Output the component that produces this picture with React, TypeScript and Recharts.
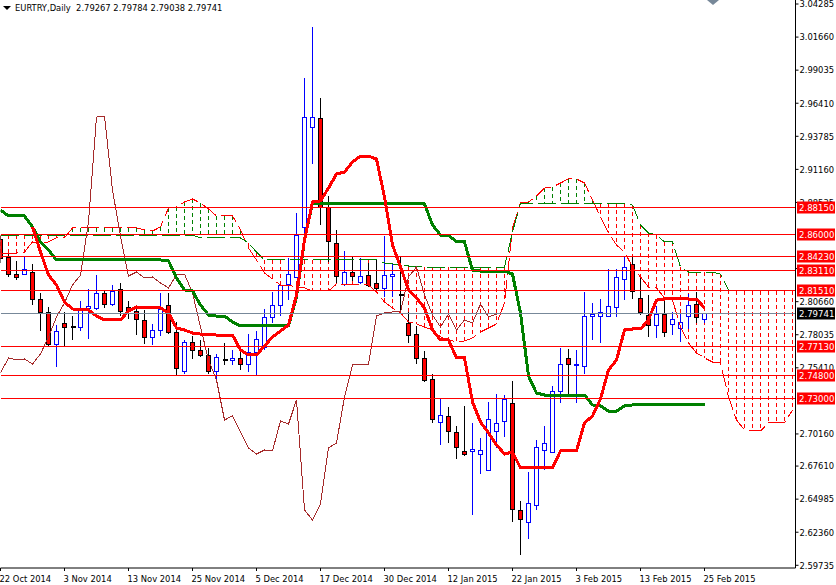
import { Bar, ComposedChart, Line, ReferenceLine, XAxis, YAxis } from "recharts"

const opens = [2.8556,2.8413,2.8285,2.8285,2.8301,2.8087,2.7976,2.7722,2.7889,2.7865,2.7857,2.8008,2.8008,2.8127,2.8047,2.8159,2.8016,2.7984,2.7913,2.7778,2.7841,2.8032,2.7825,2.7508,2.7738,2.7675,2.7635,2.7508,2.7603,2.7595,2.7611,2.7571,2.7659,2.7706,2.7937,2.8039,2.8206,2.8254,2.8651,2.9445,2.9523,2.8817,2.8524,2.8206,2.8301,2.8222,2.8277,2.8214,2.8167,2.8262,2.8119,2.7889,2.7809,2.7611,2.7452,2.7103,2.7151,2.7024,2.6873,2.6873,2.6849,2.6722,2.7032,2.7111,2.7254,2.6405,2.6317,2.6452,2.6881,2.6865,2.7349,2.7611,2.7556,2.7548,2.7952,2.7945,2.7952,2.8016,2.8238,2.8357,2.8095,2.7960,2.7873,2.7968,2.7881,2.7849,2.7945,2.8047,2.79267]
const highs = [2.8595,2.8452,2.8389,2.8436,2.8365,2.8135,2.8024,2.7881,2.7984,2.7960,2.8079,2.8167,2.8285,2.8159,2.8206,2.8222,2.8079,2.8024,2.8000,2.7889,2.8135,2.8135,2.7905,2.7762,2.7794,2.7762,2.7706,2.7651,2.7738,2.7683,2.7706,2.7817,2.7841,2.8008,2.8143,2.8214,2.8413,2.8770,2.9842,3.0246,2.9683,2.8912,2.8635,2.8476,2.8421,2.8413,2.8373,2.8397,2.8595,2.8373,2.8421,2.7984,2.7873,2.7675,2.7492,2.7302,2.7230,2.7087,2.7238,2.7103,2.6984,2.7270,2.7341,2.7326,2.7437,2.6484,2.6714,2.6968,2.7087,2.7397,2.7699,2.7691,2.7683,2.8143,2.8063,2.8095,2.8333,2.8333,2.8421,2.8421,2.8277,2.8119,2.8039,2.8095,2.7984,2.7976,2.8127,2.8143,2.79784]
const lows = [2.8373,2.8269,2.8238,2.8285,2.8047,2.7841,2.7714,2.7548,2.7714,2.7762,2.7841,2.7770,2.8000,2.8016,2.8039,2.7960,2.7929,2.7809,2.7730,2.7722,2.7794,2.7817,2.7484,2.7492,2.7611,2.7627,2.7492,2.7452,2.7571,2.7571,2.7524,2.7508,2.7484,2.7683,2.7897,2.7960,2.8087,2.8254,2.8572,2.9166,2.8675,2.8381,2.8222,2.8198,2.8230,2.8214,2.8190,2.8143,2.8103,2.8103,2.7976,2.7738,2.7579,2.7429,2.7103,2.6929,2.6952,2.6818,2.6841,2.6373,2.6706,2.6722,2.6905,2.6992,2.6325,2.6056,2.6190,2.6413,2.6730,2.6865,2.7262,2.7310,2.7262,2.7492,2.7762,2.7738,2.7945,2.7945,2.8087,2.8095,2.7968,2.7786,2.7778,2.7786,2.7809,2.7746,2.7849,2.7897,2.79038]
const closes = [2.8405,2.8285,2.8254,2.8325,2.8087,2.7976,2.7722,2.7833,2.7857,2.7865,2.8008,2.8024,2.8127,2.8047,2.8143,2.7984,2.7984,2.7921,2.7778,2.7841,2.8000,2.7825,2.7532,2.7738,2.7675,2.7635,2.7508,2.7619,2.7603,2.7611,2.7571,2.7659,2.7762,2.7937,2.8039,2.8198,2.8285,2.8595,2.9531,2.9531,2.8817,2.8540,2.8262,2.8301,2.8262,2.8269,2.8198,2.8167,2.8277,2.8285,2.8119,2.7801,2.7611,2.7437,2.7127,2.7159,2.7032,2.6905,2.6849,2.6889,2.6881,2.7127,2.7095,2.7286,2.6413,2.6333,2.6460,2.6905,2.6944,2.7349,2.7564,2.7564,2.7571,2.7952,2.7968,2.7976,2.8024,2.8254,2.8341,2.8143,2.7976,2.7873,2.7968,2.7825,2.7921,2.7897,2.8039,2.7937,2.79741]

// first four days have no conversion line on the picture
const tenkan = [null,null,null,null,2.8659,2.8460,2.8277,2.8198,2.8063,2.8008,2.8000,2.8000,2.7952,2.7921,2.7921,2.7921,2.7992,2.8024,2.8016,2.8016,2.8016,2.7976,2.7857,2.7841,2.7817,2.7809,2.7809,2.7801,2.7801,2.7801,2.7683,2.7643,2.7643,2.7714,2.7786,2.7833,2.7881,2.8119,2.8556,2.8857,2.8865,2.8968,2.9079,2.9095,2.9174,2.9222,2.9222,2.9198,2.8897,2.8516,2.8341,2.8159,2.8095,2.8016,2.7841,2.7762,2.7762,2.7619,2.7619,2.7270,2.7111,2.7024,2.6929,2.6857,2.6873,2.6746,2.6746,2.6746,2.6746,2.6746,2.6881,2.6881,2.6881,2.7103,2.7159,2.7294,2.7524,2.7603,2.7841,2.7849,2.7849,2.7921,2.8079,2.8087,2.8095,2.8095,2.8087,2.8087,2.8016]
const kijun = [2.8794,2.8746,2.8746,2.8746,2.8659,2.8540,2.8476,2.8397,2.8397,2.8397,2.8397,2.8397,2.8397,2.8397,2.8397,2.8397,2.8397,2.8397,2.8397,2.8397,2.8397,2.8389,2.8254,2.8159,2.8151,2.8039,2.7960,2.7952,2.7952,2.7905,2.7873,2.7873,2.7873,2.7873,2.7873,2.7873,2.7873,2.8103,2.8556,2.8849,2.8849,2.8849,2.8849,2.8849,2.8849,2.8849,2.8849,2.8849,2.8849,2.8849,2.8849,2.8849,2.8849,2.8841,2.8675,2.8595,2.8595,2.8540,2.8540,2.8317,2.8309,2.8309,2.8309,2.8309,2.8285,2.7976,2.7476,2.7341,2.7325,2.7325,2.7325,2.7325,2.7325,2.7325,2.7246,2.7238,2.7198,2.7198,2.7238,2.7246,2.7246,2.7246,2.7246,2.7246,2.7246,2.7246,2.7246,2.7246,2.7246]
const chikou = [2.7500,2.7619,2.7603,2.7611,2.7571,2.7651,2.7786,2.7945,2.8055,2.8198,2.8277,2.8698,2.9531,2.9539,2.8952,2.8587,2.8269,2.8301,2.8254,2.8262,2.8214,2.8175,2.8277,2.8285,2.8135,2.7865,2.7603,2.7445,2.7127,2.7159,2.7032,2.6905,2.6857,2.6889,2.6881,2.7119,2.7095,2.7286,2.6413,2.6333,2.6460,2.6905,2.6944,2.7310,2.7564,2.7571,2.7571,2.7952,2.7976,2.7984,2.7984,2.8262,2.8341,2.8119,2.7960,2.7865,2.7968,2.7841,2.7921,2.7897,2.8047,2.7945,2.7968]
const spanA = [2.8452,2.8452,2.8452,2.8460,2.8540,2.8524,2.8540,2.8572,2.8572,2.8651,2.8651,2.8651,2.8651,2.8651,2.8651,2.8651,2.8651,2.8651,2.8635,2.8627,2.8659,2.8810,2.8817,2.8857,2.8881,2.8849,2.8802,2.8746,2.8746,2.8746,2.8635,2.8492,2.8397,2.8293,2.8246,2.8198,2.8198,2.8182,2.8175,2.8151,2.8151,2.8151,2.8206,2.8206,2.8206,2.8206,2.8198,2.8143,2.8063,2.8016,2.7976,2.7905,2.7889,2.7865,2.7841,2.7786,2.7762,2.7746,2.7754,2.7778,2.7825,2.7857,2.7889,2.8055,2.8651,2.8849,2.8857,2.8905,2.8968,2.8976,2.9008,2.9040,2.9040,2.9008,2.8873,2.8738,2.8611,2.8516,2.8460,2.8341,2.8262,2.8182,2.8175,2.8095,2.8079,2.7865,2.7738,2.7659,2.7619,2.7587,2.7579,2.7310,2.7127,2.7048,2.7040,2.7040,2.7103,2.7103,2.7103,2.7206]
const spanB = [2.8595,2.8595,2.8595,2.8595,2.8595,2.8595,2.8595,2.8595,2.8595,2.8595,2.8595,2.8595,2.8595,2.8595,2.8595,2.8595,2.8595,2.8595,2.8595,2.8595,2.8595,2.8595,2.8595,2.8595,2.8595,2.8572,2.8572,2.8572,2.8572,2.8572,2.8572,2.8532,2.8460,2.8397,2.8397,2.8397,2.8397,2.8397,2.8397,2.8397,2.8397,2.8397,2.8397,2.8397,2.8397,2.8397,2.8397,2.8397,2.8373,2.8365,2.8357,2.8349,2.8349,2.8341,2.8341,2.8341,2.8341,2.8341,2.8341,2.8341,2.8341,2.8341,2.8341,2.8341,2.8619,2.8849,2.8849,2.8849,2.8849,2.8849,2.8849,2.8849,2.8849,2.8849,2.8849,2.8849,2.8849,2.8849,2.8849,2.8833,2.8675,2.8611,2.8595,2.8540,2.8540,2.8341,2.8301,2.8301,2.8301,2.8301,2.8285,2.8159,2.8151,2.8151,2.8151,2.8151,2.8151,2.8151,2.8151,2.8151]

const dateTicks = [0, 8, 16, 24, 32, 40, 48, 56, 64, 72, 80, 88]
const dateLabels = ["22 Oct 2014", "3 Nov 2014", "13 Nov 2014", "25 Nov 2014", "5 Dec 2014", "17 Dec 2014", "30 Dec 2014", "12 Jan 2015", "22 Jan 2015", "3 Feb 2015", "13 Feb 2015", "25 Feb 2015"]
const priceTicks = [3.04285, 3.0166, 2.99035, 2.9641, 2.93785, 2.9116, 2.88535, 2.83285, 2.8066, 2.78035, 2.7541, 2.7016, 2.6761, 2.64985, 2.6236, 2.59735]
const levels = [2.8815, 2.86, 2.8423, 2.8311, 2.8151, 2.7713, 2.748, 2.73]
const lastPrice = 2.79741

const FONT = "'DejaVu Sans Condensed', 'Liberation Sans', sans-serif"
const PRICE_DOMAIN = [2.5952, 3.04603]

const rows = spanA.map((a, i) => ({
  i,
  range: i < opens.length ? [lows[i], highs[i]] : undefined,
  open: opens[i],
  close: closes[i],
  tenkan: tenkan[i] ?? undefined,
  kijun: kijun[i],
  chikou: chikou[i],
  spanA: a,
  spanB: spanB[i],
  cloud: [Math.min(a, spanB[i]), Math.max(a, spanB[i])],
}))

const crisp = (v: number) => Math.floor(v) + 0.5

function Candle(props: any) {
  const { x, y, width, height, payload } = props
  if (!payload || !payload.range) return null
  const [low, high] = payload.range
  const perUnit = height / (high - low)
  const cx = crisp(x + width / 2)
  const yOpen = crisp(y + (high - payload.open) * perUnit)
  const yClose = crisp(y + (high - payload.close) * perUnit)
  const up = payload.close > payload.open
  const color = up ? "#0000ff" : "#000000"
  const top = Math.min(yOpen, yClose)
  const bodyH = Math.abs(yOpen - yClose)
  return (
    <g shapeRendering="crispEdges">
      <line x1={cx} x2={cx} y1={crisp(y)} y2={crisp(y + height)} stroke={color} />
      {bodyH < 1 ? (
        <line x1={cx - 2} x2={cx + 3} y1={top} y2={top} stroke={color} strokeWidth={2} />
      ) : (
        <rect x={cx - 2} y={top} width={4} height={bodyH} fill={up ? "#ffffff" : "#ff0000"} stroke={color} />
      )}
    </g>
  )
}

function CloudHatch(props: any) {
  const { x, y, width, height, payload } = props
  if (!payload) return null
  const cx = crisp(x + width / 2)
  return (
    <line
      x1={cx}
      x2={cx}
      y1={y}
      y2={y + height}
      stroke={payload.spanA > payload.spanB ? "#008000" : "#ff0000"}
      strokeDasharray="4 3"
      shapeRendering="crispEdges"
    />
  )
}

function DateTick(props: any) {
  const { x, y, payload } = props
  return (
    <text x={x - 1} y={y + 9} fontSize={9.3} fontFamily={FONT} fill="#000">
      {dateLabels[dateTicks.indexOf(payload.value)]}
    </text>
  )
}

// drawn from a second axis so the boxes sit on top of the price ticks
function PriceTag(props: any) {
  const { y, payload } = props
  const top = crisp(y)
  return (
    <g>
      <rect x={797} y={top - 6} width={38} height={12} fill={payload.value === lastPrice ? "#000" : "#ff0000"} />
      <text x={799} y={top + 3.5} fontSize={9.5} fontFamily={FONT} fill="#fff">
        {payload.value.toFixed(5)}
      </text>
    </g>
  )
}

export default function App() {
  return (
    <div style={{ position: "absolute", left: 0, top: 0, width: 836, height: 585, background: "#fff", overflow: "hidden" }}>
      <div style={{ position: "absolute", left: 3, top: 6, width: 0, height: 0, borderLeft: "4px solid transparent", borderRight: "4px solid transparent", borderTop: "4px solid #000" }} />
      <div style={{ position: "absolute", left: 15, top: 2, fontSize: 9.3, fontFamily: FONT, whiteSpace: "pre", zIndex: 2 }}>
        EURTRY,Daily  2.79267 2.79784 2.79038 2.79741
      </div>
      <div style={{ position: "absolute", left: 707, top: 0, width: 0, height: 0, borderLeft: "6px solid transparent", borderRight: "6px solid transparent", borderTop: "5px solid #778899", zIndex: 2 }} />
      <ComposedChart width={836} height={585} data={rows} margin={{ top: 0, right: 0, bottom: 0, left: 0.5 }}>
        <XAxis
          dataKey="i"
          type="number"
          domain={[0, 99.375]}
          allowDataOverflow
          ticks={dateTicks}
          interval={0}
          height={17}
          stroke="#000"
          tickSize={3}
          tick={<DateTick />}
        />
        <XAxis xAxisId="cloud" dataKey="i" type="number" domain={[0, 99.375]} allowDataOverflow hide />
        <YAxis
          orientation="right"
          type="number"
          domain={PRICE_DOMAIN}
          allowDataOverflow
          ticks={priceTicks}
          interval={0}
          width={40.5}
          stroke="#000"
          tickSize={3}
          tickMargin={1}
          tickFormatter={(v: number) => v.toFixed(5)}
          tick={{ fontSize: 9.3, fontFamily: FONT, fill: "#000" }}
        />
        <YAxis
          yAxisId="tags"
          orientation="right"
          mirror
          type="number"
          domain={PRICE_DOMAIN}
          allowDataOverflow
          ticks={[...levels, lastPrice]}
          interval={0}
          axisLine={false}
          tickLine={false}
          tick={<PriceTag />}
        />
        <Bar xAxisId="cloud" dataKey="cloud" barSize={6} shape={<CloudHatch />} isAnimationActive={false} />
        <Line dataKey="spanA" stroke="#ff0000" strokeWidth={1} strokeDasharray="18 5" shapeRendering="crispEdges" dot={false} isAnimationActive={false} />
        <Line dataKey="spanB" stroke="#008000" strokeWidth={1} strokeDasharray="18 5" shapeRendering="crispEdges" dot={false} isAnimationActive={false} />
        <Line dataKey="chikou" stroke="#a52a2a" strokeWidth={1} shapeRendering="crispEdges" dot={false} isAnimationActive={false} />
        <Bar dataKey="range" barSize={6} shape={<Candle />} isAnimationActive={false} />
        <Line dataKey="kijun" stroke="#008000" strokeWidth={3} shapeRendering="crispEdges" dot={false} isAnimationActive={false} />
        <Line dataKey="tenkan" stroke="#ff0000" strokeWidth={3} shapeRendering="crispEdges" dot={false} isAnimationActive={false} />
        <ReferenceLine y={lastPrice} stroke="#778899" shapeRendering="crispEdges" />
        {levels.map((l) => (
          <ReferenceLine key={l} y={l} stroke="#ff0000" shapeRendering="crispEdges" />
        ))}
      </ComposedChart>
    </div>
  )
}
